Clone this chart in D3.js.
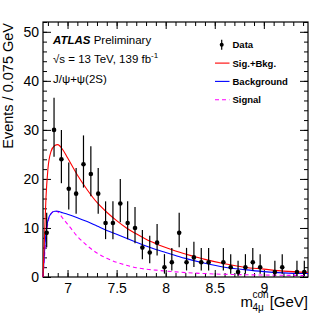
<!DOCTYPE html>
<html lang="en">
<head>
    <meta charset="UTF-8">
    <script src="https://d3js.org/d3.v7.min.js"></script>
    <style>
        body { margin: 0; background: #fff; }
        svg { font-family: "Liberation Sans", Arial, sans-serif; }
        .axis path.domain { display: none; }
        .axis line { stroke: #000; }
        .axis text { font-size: 14px; fill: #000; }
    </style>
</head>
<body>
    <div id="my_dataviz"></div>

    <script>
        // binned data: 36 bins of 0.075 GeV starting at 6.75
        var massLow = 6.75;
        var binWidth = 0.075;
        var counts = [9, 30, 24, 18, 17, 23, 21, 17, 11, 11, 15, 11, 10, 6, 5, 7, 2, 3,
                      9, 3, 4, 3, 3, 0, 3, 2, 1, 2, 3, 2, 0, 1, 2, 0, 1, 1];

        // fit curves
        var curveMass = [6.75, 6.765, 6.78, 6.80, 6.83, 6.87, 6.90, 6.95, 7.0, 7.1, 7.2, 7.3, 7.4, 7.5,
                         7.6, 7.7, 7.8, 7.9, 8.0, 8.1, 8.2, 8.4, 8.6, 8.8, 9.0, 9.2, 9.45];
        var sigBkg = [0, 8, 16, 22, 25.5, 26.8, 27, 26, 24.3, 20.8, 17.8, 15.2, 13.2, 11.5,
                      10.0, 8.8, 7.7, 6.8, 6.0, 5.3, 4.7, 3.6, 2.7, 2.0, 1.6, 1.2, 0.95];
        var bkg = [0, 5, 9, 11.5, 12.9, 13.4, 13.4, 13.1, 12.8, 12.1, 11.3, 10.4, 9.5, 8.7,
                   7.9, 7.1, 6.3, 5.6, 5.0, 4.4, 3.8, 2.8, 2.0, 1.5, 1.1, 0.85, 0.7];
        var sig = [0, 4, 8, 11, 12.8, 13.5, 13.3, 12, 10.8, 8.3, 6.4, 4.9, 3.8, 3.0,
                   2.4, 1.9, 1.6, 1.4, 1.2, 1.05, 0.9, 0.7, 0.55, 0.47, 0.4, 0.35, 0.3];

        var xTicks = [7, 7.5, 8, 8.5, 9];
        var xMinor = d3.range(68, 95).map(function (d) { return d / 10; });
        var yTicks = [0, 10, 20, 30, 40, 50];
        var yMinor = d3.range(0, 53, 2);

        var margin = { top: 22, right: 24, bottom: 42, left: 43 },
            width = 332, height = 319;

        var svg = d3.select("#my_dataviz")
            .append("svg")
            .attr("width", width)
            .attr("height", height);

        var x = d3.scaleLinear()
            .domain([massLow, massLow + counts.length * binWidth])
            .range([margin.left, width - margin.right]);

        var y = d3.scaleLinear()
            .domain([0, 52])
            .range([height - margin.bottom, margin.top]);

        var x0 = x.range()[0], x1 = x.range()[1], y0 = y.range()[0], y1 = y.range()[1];

        // axes, ticks pointing inward on all four sides
        svg.append("g").attr("class", "axis")
            .attr("transform", "translate(0," + y0 + ")")
            .call(d3.axisBottom(x).tickValues(xTicks).tickSize(-7).tickPadding(6)
                .tickFormat(function (d) { return d; }));
        svg.append("g").attr("class", "axis")
            .attr("transform", "translate(0," + y0 + ")")
            .call(d3.axisBottom(x).tickValues(xMinor).tickSize(-4).tickFormat(""));
        svg.append("g").attr("class", "axis")
            .attr("transform", "translate(0," + y1 + ")")
            .call(d3.axisTop(x).tickValues(xTicks).tickSize(-7).tickFormat(""));
        svg.append("g").attr("class", "axis")
            .attr("transform", "translate(0," + y1 + ")")
            .call(d3.axisTop(x).tickValues(xMinor).tickSize(-4).tickFormat(""));

        svg.append("g").attr("class", "axis")
            .attr("transform", "translate(" + x0 + ",0)")
            .call(d3.axisLeft(y).tickValues(yTicks).tickSize(-8).tickPadding(4));
        svg.append("g").attr("class", "axis")
            .attr("transform", "translate(" + x0 + ",0)")
            .call(d3.axisLeft(y).tickValues(yMinor).tickSize(-4).tickFormat(""));
        svg.append("g").attr("class", "axis")
            .attr("transform", "translate(" + x1 + ",0)")
            .call(d3.axisRight(y).tickValues(yTicks).tickSize(-8).tickFormat(""));
        svg.append("g").attr("class", "axis")
            .attr("transform", "translate(" + x1 + ",0)")
            .call(d3.axisRight(y).tickValues(yMinor).tickSize(-4).tickFormat(""));

        svg.append("rect")
            .attr("x", x0).attr("y", y1)
            .attr("width", x1 - x0).attr("height", y0 - y1)
            .attr("fill", "none")
            .attr("stroke", "#000")
            .attr("stroke-width", 1.2);

        // fit curves
        function curvePath(vals) {
            return d3.line()
                .x(function (d, i) { return x(curveMass[i]); })
                .y(function (d) { return y(d); })
                .curve(d3.curveMonotoneX)(vals);
        }

        svg.append("path").attr("d", curvePath(sig))
            .attr("fill", "none").attr("stroke", "#ff00ff").attr("stroke-width", 1.1)
            .attr("stroke-dasharray", "4,3");
        svg.append("path").attr("d", curvePath(bkg))
            .attr("fill", "none").attr("stroke", "#0000ff").attr("stroke-width", 1.1);
        svg.append("path").attr("d", curvePath(sigBkg))
            .attr("fill", "none").attr("stroke", "#ff0000").attr("stroke-width", 1.1);

        // data points with poisson error bars (empty bins not drawn)
        var points = counts.map(function (n, i) {
            return {
                m: massLow + (i + 0.5) * binWidth,
                n: n,
                lo: n > 0 ? n - Math.sqrt(n - 0.25) : 0,
                hi: n + Math.sqrt(n + 0.75) + 1
            };
        }).filter(function (d) { return d.n > 0; });

        svg.append("g").selectAll("line")
            .data(points).enter().append("line")
            .attr("x1", function (d) { return x(d.m); })
            .attr("x2", function (d) { return x(d.m); })
            .attr("y1", function (d) { return y(d.lo); })
            .attr("y2", function (d) { return y(d.hi); })
            .attr("stroke", "#000").attr("stroke-width", 1.2);

        svg.append("g").selectAll("circle")
            .data(points).enter().append("circle")
            .attr("cx", function (d) { return x(d.m); })
            .attr("cy", function (d) { return y(d.n); })
            .attr("r", 2.3)
            .attr("fill", "#000");

        // axis titles
        svg.append("text")
            .attr("transform", "translate(13," + (y1 + 1) + ") rotate(-90)")
            .attr("text-anchor", "end")
            .style("font-size", "14.5px")
            .text("Events / 0.075 GeV");

        var xt = svg.append("g").style("font-size", "15px");
        xt.append("text").attr("x", 240.5).attr("y", 306.5).text("m");
        xt.append("text").attr("x", 252.5).attr("y", 297.5).style("font-size", "10px").text("con");
        xt.append("text").attr("x", 252.5).attr("y", 310.5).style("font-size", "10px").text("4μ");
        xt.append("text").attr("x", x1).attr("y", 306.5).attr("text-anchor", "end").text("[GeV]");

        // labels
        var lab = svg.append("g").style("font-size", "11.5px");
        var t1 = lab.append("text").attr("x", 53).attr("y", 44);
        t1.append("tspan").style("font-weight", "bold").style("font-style", "italic").text("ATLAS");
        t1.append("tspan").text(" Preliminary");
        var t2 = lab.append("text").attr("x", 53).attr("y", 63);
        t2.append("tspan").text("√s = 13 TeV, 139 fb");
        t2.append("tspan").attr("dy", -5).style("font-size", "8px").text("-1");
        lab.append("text").attr("x", 53).attr("y", 83).text("J/ψ+ψ(2S)");

        // legend
        var legend = [
            { name: "Data", type: "data" },
            { name: "Sig.+Bkg.", color: "#ff0000" },
            { name: "Background", color: "#0000ff" },
            { name: "Signal", color: "#ff00ff", dash: "4,3" }
        ];
        var leg = svg.append("g").selectAll("g")
            .data(legend).enter().append("g")
            .attr("transform", function (d, i) { return "translate(0," + (48.3 + i * 18.3) + ")"; });

        leg.append("text")
            .attr("x", 232.5).attr("y", 0)
            .style("font-size", "9.5px").style("font-weight", "bold")
            .text(function (d) { return d.name; });

        leg.filter(function (d) { return d.type !== "data"; })
            .append("line")
            .attr("x1", 215).attr("x2", 229.5).attr("y1", -3.5).attr("y2", -3.5)
            .attr("stroke", function (d) { return d.color; })
            .attr("stroke-width", 1.1)
            .attr("stroke-dasharray", function (d) { return d.dash || null; });

        var dl = leg.filter(function (d) { return d.type === "data"; });
        dl.append("line")
            .attr("x1", 221.7).attr("x2", 221.7).attr("y1", -8.5).attr("y2", 1.5)
            .attr("stroke", "#000").attr("stroke-width", 1.2);
        dl.append("circle")
            .attr("cx", 221.7).attr("cy", -3.5).attr("r", 2)
            .attr("fill", "#000");
    </script>
</body>
</html>
